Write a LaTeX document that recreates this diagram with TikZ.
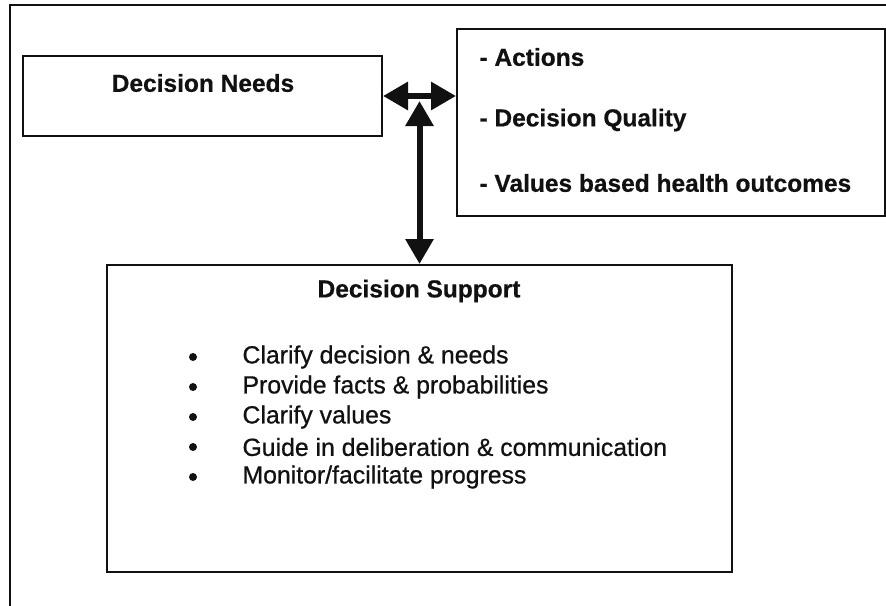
\documentclass[tikz,border=0pt]{standalone}
\usepackage{fontspec}
\setmainfont{Liberation Sans}
\newfontfamily\heavyfont[FakeBold=0.6,BoldFont={* Bold}]{Liberation Sans}
\newfontfamily\itemfont[FakeBold=0.7]{Liberation Sans}
\usepackage{xcolor}
\usepackage{tikz}
\usetikzlibrary{calc,arrows.meta}
\definecolor{ink}{HTML}{111111}
\definecolor{paper}{HTML}{FFFFFF}
\tikzset{
  frame/.style={draw=ink, line width=2pt},
  box/.style={draw=ink, fill=paper, line width=2pt, rectangle, inner sep=0pt},
  link/.style={draw=ink, line width=6pt, {Triangle[length=25pt,width=27pt]}-{Triangle[length=25pt,width=27pt]}},
  head/.style={text=ink, font=\heavyfont\bfseries\fontsize{24.5}{28}\selectfont},
  headl/.style={head, anchor=west},
  item/.style={text=ink, font=\itemfont\fontsize{24.8}{28}\selectfont, anchor=west},
  dot/.style={circle, fill=ink, inner sep=0pt, minimum size=8pt},
}

\begin{document}
\begin{tikzpicture}[x=1pt,y=-1pt]
  \useasboundingbox (0,0) rectangle (886,605);
  \clip (0,0) rectangle (886,605);
  \fill[paper] (0,0) rectangle (886,605);
  \draw[frame] (10,4.5) rectangle (900,620);
  % boxes
  \node[box, minimum width=359pt, minimum height=80pt] (needs) at (202.5,96) {};
  \node[box, minimum width=428pt, minimum height=187pt] (outcomes) at (671,122.5) {};
  \node[box, minimum width=625pt, minimum height=307pt] (support) at (419.5,418.5) {};
  % texts
  \node[head] (needstxt) at (203,83) {Decision Needs};
  \foreach \y/\t [count=\i] in {57/- Actions, 120/- Decision Quality, 183/- Values based health outcomes} {
    \node[headl] (out\i) at (476,\y) {\t};
  }
  \node[head] (supporttxt) at (419,291) {Decision Support};
  \foreach \t [count=\i] in {Clarify decision \& needs, Provide facts \& probabilities, Clarify values,
      Guide in deliberation \& communication, Monitor/facilitate progress} {
    \node[dot] (dot\i) at (193,327+30*\i) {};
    \node[item] (item\i) at (239,327+30*\i) {\t};
  }
  % arrows
  \coordinate (hub) at ($(needs.east)!0.5!(needs.east -| outcomes.west)$);
  \draw[link] (needs.east) -- (needs.east -| outcomes.west);
  \draw[link] ($(hub)+(0,5)$) -- (support.north);
\end{tikzpicture}
\end{document}
